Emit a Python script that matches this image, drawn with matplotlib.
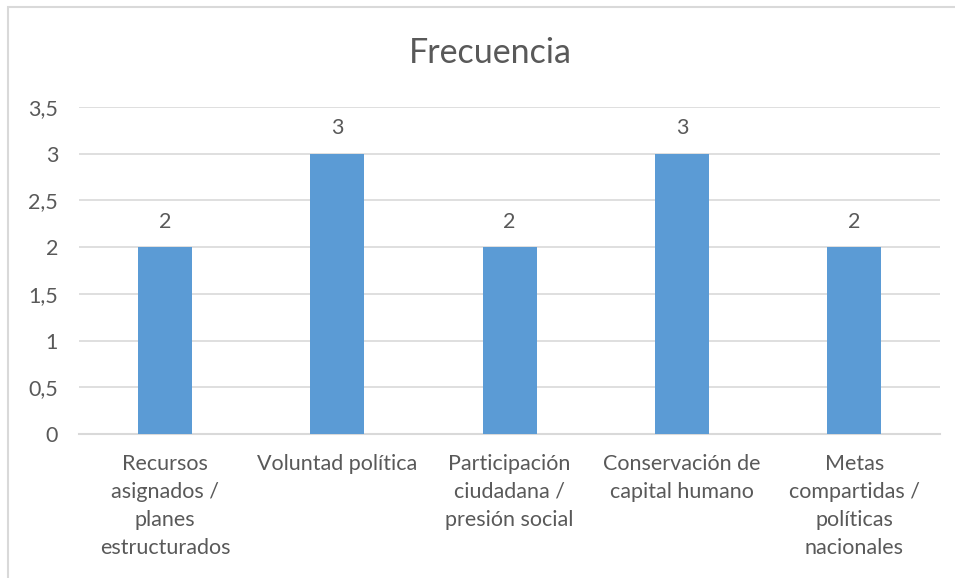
# Gráfico de barras "Frecuencia" (estilo Excel)
import matplotlib
matplotlib.use("Agg")
from matplotlib import pyplot as plt
from matplotlib.patches import Rectangle

# datos
categorias = [
    "Recursos\nasignados /\nplanes\nestructurados",
    "Voluntad política",
    "Participación\nciudadana /\npresión social",
    "Conservación de\ncapital humano",
    "Metas\ncompartidas /\npolíticas\nnacionales",
]
frecuencia = [2, 3, 2, 3, 2]
y_ticks = [0, 0.5, 1, 1.5, 2, 2.5, 3, 3.5]
y_tick_labels = ["0", "0,5", "1", "1,5", "2", "2,5", "3", "3,5"]

color_barra = "#5B9BD5"
color_texto = "#595959"
color_grid = "#D9D9D9"

plt.rcParams['font.family'] = ['Lato', 'DejaVu Sans']

fig = plt.figure(figsize=(9.55, 5.78), dpi=100)
ax = fig.add_axes([0.0827, 0.249, 0.902, 0.566])

# borde exterior del gráfico
fig.patches.append(Rectangle((8 / 955, -0.05), 1.1, 1 - 7 / 578 + 0.05,
                             transform=fig.transFigure, fill=False,
                             edgecolor=color_grid, linewidth=1.5))

x = range(len(categorias))
barras = ax.bar(x, frecuencia, width=0.314, color=color_barra, zorder=3)
ax.bar_label(barras, padding=11, fontsize=15.5, color=color_texto)

ax.set_xlim(-0.5, len(categorias) - 0.5)
ax.set_ylim(0, 3.5)
ax.set_yticks(y_ticks)
ax.set_yticklabels(y_tick_labels)
ax.set_xticks(list(x))
ax.set_xticklabels(categorias, linespacing=1.5)

ax.grid(axis="y", color=color_grid, linewidth=1.2, zorder=0)
for s in ["top", "right", "left"]:
    ax.spines[s].set_visible(False)
ax.spines["bottom"].set_color(color_grid)
ax.spines["bottom"].set_linewidth(1.5)

ax.tick_params(axis="both", length=0, labelsize=15.5, labelcolor=color_texto)
ax.tick_params(axis="y", pad=15)
ax.tick_params(axis="x", pad=14)

fig.text(0.513, 0.908, "Frecuencia", ha="center", va="center",
         fontsize=24.5, color=color_texto)

fig.savefig("out.png", dpi=100)
